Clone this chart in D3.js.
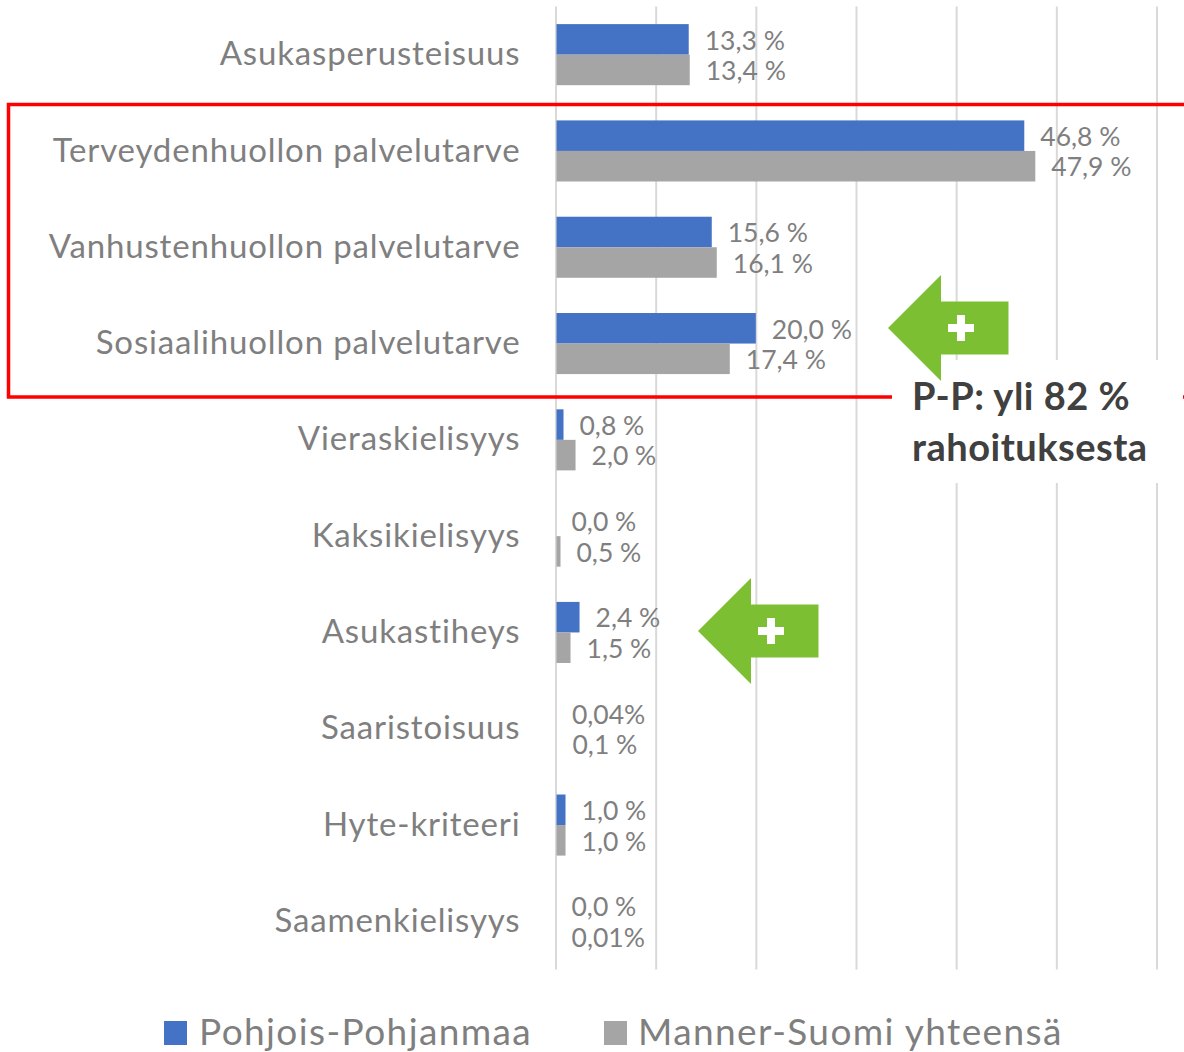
<!DOCTYPE html>
<html>
<head>
<meta charset="utf-8">
<script src="https://cdn.jsdelivr.net/npm/d3@7"></script>
<style>
  html, body { margin: 0; padding: 0; background: #fff; }
  text { font-family: Lato, "Open Sans", sans-serif; }
</style>
</head>
<body>
<div id="canvas"></div>
<script>
const categories = ["Asukasperusteisuus", "Terveydenhuollon palvelutarve", "Vanhustenhuollon palvelutarve",
  "Sosiaalihuollon palvelutarve", "Vieraskielisyys", "Kaksikielisyys", "Asukastiheys", "Saaristoisuus",
  "Hyte-kriteeri", "Saamenkielisyys"];
const seriesNames = ["Pohjois-Pohjanmaa", "Manner-Suomi yhteensä"];
const pohjois = [13.3, 46.8, 15.6, 20.0, 0.8, 0.0, 2.4, 0.04, 1.0, 0.0];
const manner = [13.4, 47.9, 16.1, 17.4, 2.0, 0.5, 1.5, 0.1, 1.0, 0.01];
const pohjoisLabels = ["13,3 %", "46,8 %", "15,6 %", "20,0 %", "0,8 %", "0,0 %", "2,4 %", "0,04%", "1,0 %", "0,0 %"];
const mannerLabels = ["13,4 %", "47,9 %", "16,1 %", "17,4 %", "2,0 %", "0,5 %", "1,5 %", "0,1 %", "1,0 %", "0,01%"];
const gridTicks = [0, 10, 20, 30, 40, 50, 60];

const w = 1184;
const h = 1052;
const margin = { top: 6.5, bottom: 82.5, left: 555.5, right: 27.5 };
const blue = "#4472c4";
const gray = "#a5a5a5";
const textColor = "#7f7f7f";

const svg = d3.select("#canvas").append("svg")
  .attr("width", w)
  .attr("height", h)
  .style("display", "block");

const x = d3.scaleLinear().domain([0, 60]).range([margin.left, w - margin.right]);
const y = d3.scaleBand().domain(categories).range([margin.top, h - margin.bottom]);
const inner = d3.scaleBand().domain([0, 1]).range([0, y.bandwidth()]).paddingOuter(0.577).paddingInner(0);

// gridlines
const grid = svg.append("g")
  .attr("transform", "translate(0," + margin.top + ")")
  .call(d3.axisBottom(x).tickValues(gridTicks).tickSize(h - margin.top - margin.bottom).tickFormat(""));
grid.select(".domain").remove();
grid.selectAll("line").attr("stroke", "#d9d9d9").attr("stroke-width", 2);

// category labels
const yAxis = svg.append("g")
  .attr("transform", "translate(" + margin.left + ",0)")
  .call(d3.axisLeft(y).tickSize(0).tickPadding(35));
yAxis.select(".domain").remove();
yAxis.selectAll("text")
  .attr("fill", textColor)
  .style("font-size", "33px")
  .style("letter-spacing", "0.85px")
  .style("font-family", "Lato, sans-serif");

// bars and value labels, one series at a time
// bars start just right of the zero gridline, as in the original
[[pohjois, pohjoisLabels, blue], [manner, mannerLabels, gray]].forEach(function(s, i){
  const rows = categories.map(function(c, j){
    return { category: c, value: s[0][j], label: s[1][j] };
  });
  svg.append("g").selectAll("rect")
    .data(rows)
    .join("rect")
    .attr("x", x(0) + 1)
    .attr("y", function(d){ return y(d.category) + inner(i); })
    .attr("width", function(d){ return Math.max(0, x(d.value) - x(0) - 1); })
    .attr("height", inner.bandwidth())
    .attr("fill", s[2]);
  svg.append("g").selectAll("text")
    .data(rows)
    .join("text")
    .attr("x", function(d){ return x(d.value) + 16; })
    .attr("y", function(d){ return y(d.category) + inner(i) + inner.bandwidth() / 2 + 1; })
    .attr("dy", "0.35em")
    .attr("fill", textColor)
    .style("font-size", "26.5px")
    .text(function(d){ return d.label; });
});

// red frame round the three service need rows
svg.append("path")
  .attr("d", "M1184,104.5H8.5V397H1184")
  .attr("fill", "none")
  .attr("stroke", "#ff0000")
  .attr("stroke-width", 3.5);

// white box behind the note
svg.append("rect")
  .attr("x", 892).attr("y", 360).attr("width", 291).attr("height", 123)
  .attr("fill", "#fff");

// green arrows
function drawArrow(cx, cy){
  const g = svg.append("g").attr("transform", "translate(" + cx + "," + cy + ")");
  g.append("path")
    .attr("d", "M-53,0L0,-53V-26.5H67.5V26.5H0V53Z")
    .attr("fill", "#7dbf33");
  g.append("path")
    .attr("d", "M16,-13H24V-4H33V4H24V13H16V4H7V-4H16Z")
    .attr("fill", "#fff");
}
drawArrow(941, 328);
drawArrow(751, 631);

// note
const note = svg.append("text")
  .attr("fill", "#404040")
  .style("font-size", "38px")
  .style("letter-spacing", "0.5px")
  .style("font-weight", 700);
note.append("tspan").attr("x", 912).attr("y", 410).text("P-P: yli 82 %");
note.append("tspan").attr("x", 912).attr("y", 461).text("rahoituksesta");

// legend
const legendItems = [{ x: 164, tx: 199 }, { x: 604, tx: 638 }];
seriesNames.forEach(function(name, i){
  svg.append("rect")
    .attr("x", legendItems[i].x).attr("y", 1021)
    .attr("width", 23).attr("height", 24)
    .attr("fill", i === 0 ? blue : gray);
  svg.append("text")
    .attr("x", legendItems[i].tx).attr("y", 1045)
    .attr("fill", textColor)
    .style("font-size", "37px")
    .style("letter-spacing", "1.4px")
    .text(name);
});
</script>
</body>
</html>
